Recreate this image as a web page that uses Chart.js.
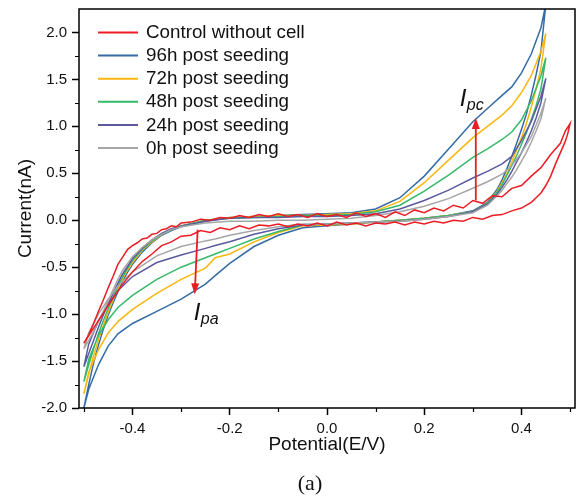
<!DOCTYPE html>
<html>
<head>
<meta charset="utf-8">
<script src="https://cdn.jsdelivr.net/npm/chart.js@4.4.1/dist/chart.umd.min.js"></script>
<style>
  html, body { margin: 0; padding: 0; background: #fff; }
  #box { width: 577px; height: 500px; }
</style>
</head>
<body>
<div id="box"><canvas id="cv" width="577" height="500"></canvas></div>
<script>
/* Voltamogramas cíclicos: cada curva = ramo de ida (X_FWD) + ramo de volta (X_BWD) */

const LABELS = ['Control without cell', '96h post seeding', '72h post seeding',
                '48h post seeding', '24h post seeding', '0h post seeding'];
const COLORS = ['#ec1c24', '#336ba5', '#f9b710', '#37b968', '#5b5a9e', '#a6a6a6'];

const X_TICKS = [-0.4, -0.2, 0.0, 0.2, 0.4];
const X_MINOR = [-0.5, -0.3, -0.1, 0.1, 0.3, 0.5];
const Y_TICKS = [-2.0, -1.5, -1.0, -0.5, 0.0, 0.5, 1.0, 1.5, 2.0];
const Y_MINOR = [-1.75, -1.25, -0.75, -0.25, 0.25, 0.75, 1.25, 1.75];

// grade de potencial das curvas com células (varredura até 0.45 V)
const X_FWD = [-0.50,-0.49,-0.48,-0.47,-0.46,-0.45,-0.44,-0.43,-0.42,-0.41,-0.40,-0.38,-0.36,-0.34,-0.32,-0.30,
  -0.25,-0.20,-0.15,-0.10,-0.05,0.00,0.05,0.10,0.15,0.20,0.25,0.30,0.33,0.36,0.38,0.40,0.42,0.44,0.45];
const X_BWD = [0.45,0.44,0.43,0.42,0.41,0.40,0.39,0.38,0.37,0.36,0.35,0.33,0.30,0.25,0.20,0.15,0.10,0.05,0.00,
  -0.05,-0.10,-0.15,-0.20,-0.23,-0.25,-0.30,-0.35,-0.40,-0.43,-0.45,-0.47,-0.49,-0.50];

const H96_FWD = [-2.00,-1.75,-1.52,-1.33,-1.16,-1.01,-0.88,-0.76,-0.65,-0.55,-0.47,-0.34,-0.24,-0.16,-0.11,-0.07,
  -0.01,0.03,0.04,0.05,0.06,0.07,0.08,0.12,0.24,0.47,0.76,1.05,1.19,1.33,1.42,1.57,1.77,2.05,2.30];
const H96_BWD = [2.30,1.80,1.55,1.33,1.13,0.97,0.82,0.68,0.55,0.43,0.33,0.19,0.10,0.05,0.02,0.00,-0.02,-0.04,-0.06,
  -0.08,-0.16,-0.28,-0.46,-0.59,-0.68,-0.84,-0.97,-1.10,-1.21,-1.34,-1.54,-1.80,-2.00];

const H72_FWD = [-1.85,-1.64,-1.44,-1.27,-1.12,-0.98,-0.85,-0.73,-0.62,-0.53,-0.45,-0.32,-0.23,-0.15,-0.10,-0.06,
  0.00,0.03,0.04,0.05,0.05,0.06,0.07,0.10,0.20,0.40,0.64,0.88,1.00,1.12,1.22,1.36,1.54,1.80,1.99];
const H72_BWD = [1.99,1.62,1.40,1.20,1.03,0.88,0.75,0.62,0.50,0.40,0.31,0.18,0.09,0.05,0.02,0.00,-0.02,-0.04,-0.05,
  -0.06,-0.13,-0.23,-0.36,-0.40,-0.51,-0.63,-0.78,-0.95,-1.08,-1.20,-1.38,-1.62,-1.85];

const H48_FWD = [-1.72,-1.54,-1.37,-1.21,-1.07,-0.94,-0.82,-0.70,-0.60,-0.51,-0.43,-0.31,-0.22,-0.15,-0.10,-0.06,
  0.00,0.02,0.03,0.04,0.05,0.05,0.06,0.09,0.16,0.31,0.48,0.67,0.76,0.86,0.94,1.07,1.27,1.54,1.73];
const H48_BWD = [1.73,1.40,1.22,1.07,0.93,0.81,0.69,0.58,0.48,0.38,0.30,0.18,0.09,0.05,0.02,0.00,-0.02,-0.03,-0.04,
  -0.05,-0.12,-0.20,-0.30,-0.36,-0.40,-0.50,-0.63,-0.80,-0.93,-1.06,-1.23,-1.48,-1.72];

const H24_FWD = [-1.56,-1.42,-1.28,-1.14,-1.01,-0.89,-0.78,-0.67,-0.57,-0.49,-0.41,-0.30,-0.21,-0.14,-0.09,-0.06,
  -0.01,0.02,0.03,0.03,0.04,0.04,0.05,0.07,0.12,0.21,0.32,0.45,0.52,0.60,0.68,0.85,1.05,1.32,1.51];
const H24_BWD = [1.51,1.25,1.09,0.95,0.83,0.72,0.62,0.52,0.43,0.35,0.28,0.17,0.09,0.04,0.01,-0.01,-0.02,-0.03,-0.04,
  -0.05,-0.09,-0.15,-0.23,-0.27,-0.30,-0.37,-0.45,-0.60,-0.75,-0.90,-1.07,-1.32,-1.56];

const H0_FWD = [-1.37,-1.28,-1.19,-1.08,-0.97,-0.86,-0.74,-0.63,-0.53,-0.46,-0.39,-0.29,-0.21,-0.15,-0.10,-0.07,
  -0.03,-0.01,-0.01,0.00,0.00,0.01,0.02,0.05,0.09,0.15,0.23,0.34,0.41,0.49,0.58,0.72,0.89,1.14,1.30];
const H0_BWD = [1.30,1.08,0.95,0.83,0.72,0.63,0.54,0.46,0.39,0.32,0.26,0.16,0.08,0.04,0.01,-0.01,-0.02,-0.03,-0.04,
  -0.04,-0.07,-0.11,-0.16,-0.20,-0.22,-0.28,-0.38,-0.55,-0.70,-0.84,-1.00,-1.20,-1.37];

// controle sem célula: varredura até 0.50 V, sinal mais ruidoso
const CTRL_X_FWD = [-0.50,-0.49,-0.48,-0.47,-0.46,-0.45,-0.44,-0.43,-0.42,-0.41,-0.40,-0.39,-0.38,-0.37,-0.36,-0.35,
  -0.34,-0.33,-0.32,-0.31,-0.30,-0.28,-0.26,-0.24,-0.22,-0.20,-0.18,-0.16,-0.14,-0.12,-0.10,-0.08,-0.06,-0.04,-0.02,
  0.00,0.02,0.04,0.06,0.08,0.10,0.12,0.14,0.16,0.18,0.20,0.22,0.24,0.26,0.28,0.30,0.32,0.34,0.36,0.38,0.40,0.42,
  0.44,0.46,0.48,0.49,0.50];
const CTRL_Y_FWD = [-1.31,-1.22,-1.10,-0.97,-0.85,-0.72,-0.60,-0.47,-0.39,-0.31,-0.27,-0.24,-0.20,-0.19,-0.15,-0.14,
  -0.10,-0.09,-0.06,-0.07,-0.03,-0.02,0.01,0.00,0.03,0.02,0.05,0.03,0.06,0.04,0.07,0.04,0.06,0.03,0.07,
  0.04,0.06,0.03,0.08,0.04,0.07,0.03,0.09,0.05,0.11,0.08,0.13,0.10,0.16,0.13,0.21,0.18,0.26,0.25,0.34,0.37,0.47,
  0.56,0.70,0.82,0.95,1.03];
const CTRL_X_BWD = [0.50,0.495,0.49,0.48,0.47,0.46,0.45,0.44,0.43,0.42,0.40,0.38,0.36,0.34,0.32,0.30,0.28,0.26,0.24,
  0.22,0.20,0.18,0.16,0.14,0.12,0.10,0.08,0.06,0.04,0.02,0.00,-0.02,-0.04,-0.06,-0.08,-0.10,-0.12,-0.14,-0.16,-0.18,
  -0.20,-0.22,-0.24,-0.26,-0.28,-0.30,-0.32,-0.34,-0.36,-0.38,-0.40,-0.42,-0.44,-0.46,-0.48,-0.50];
const CTRL_Y_BWD = [1.03,0.92,0.84,0.72,0.60,0.47,0.37,0.29,0.24,0.19,0.13,0.10,0.06,0.05,0.01,0.03,-0.01,0.00,-0.03,
  -0.01,-0.04,-0.02,-0.05,-0.02,-0.04,-0.03,-0.06,-0.03,-0.05,-0.02,-0.06,-0.03,-0.06,-0.04,-0.07,-0.04,-0.06,-0.05,-0.09,-0.06,
  -0.10,-0.08,-0.13,-0.11,-0.16,-0.17,-0.23,-0.27,-0.36,-0.44,-0.55,-0.68,-0.83,-0.99,-1.15,-1.31];

// setas I_pc / I_pa (valores em V, nA)
const ARROW_PC = { x0: 0.306, y0: 0.21, x1: 0.306, y1: 1.09 };
const ARROW_PA = { x0: -0.266, y0: -0.10, x1: -0.272, y1: -0.79 };

Chart.defaults.font.family = "'Liberation Sans', Arial, sans-serif";
Chart.defaults.color = '#111';

function laco(xs1, ys1, xs2, ys2) {
  return xs1.map((x, i) => ({ x, y: ys1[i] })).concat(xs2.map((x, i) => ({ x, y: ys2[i] })));
}

const CURVAS = [
  laco(CTRL_X_FWD, CTRL_Y_FWD, CTRL_X_BWD, CTRL_Y_BWD),
  laco(X_FWD, H96_FWD, X_BWD, H96_BWD),
  laco(X_FWD, H72_FWD, X_BWD, H72_BWD),
  laco(X_FWD, H48_FWD, X_BWD, H48_BWD),
  laco(X_FWD, H24_FWD, X_BWD, H24_BWD),
  laco(X_FWD, H0_FWD, X_BWD, H0_BWD)
];

function seta(ctx, xs, ys, s) {
  const ax = xs.getPixelForValue(s.x0), ay = ys.getPixelForValue(s.y0);
  const bx = xs.getPixelForValue(s.x1), by = ys.getPixelForValue(s.y1);
  const ang = Math.atan2(by - ay, bx - ax);
  const len = 11, half = 4;
  ctx.beginPath();
  ctx.moveTo(ax, ay);
  ctx.lineTo(bx - Math.cos(ang) * len * 0.8, by - Math.sin(ang) * len * 0.8);
  ctx.stroke();
  ctx.beginPath();
  ctx.moveTo(bx, by);
  ctx.lineTo(bx - Math.cos(ang) * len - Math.sin(ang) * half, by - Math.sin(ang) * len + Math.cos(ang) * half);
  ctx.lineTo(bx - Math.cos(ang) * len + Math.sin(ang) * half, by - Math.sin(ang) * len - Math.cos(ang) * half);
  ctx.closePath();
  ctx.fill();
  return { bx, by };
}

function rotuloI(ctx, x, y, sub) {
  ctx.fillStyle = '#111';
  ctx.textAlign = 'left';
  ctx.textBaseline = 'alphabetic';
  ctx.font = "italic 24px 'Liberation Sans'";
  ctx.fillText('I', x, y);
  ctx.font = "italic 16px 'Liberation Sans'";
  ctx.fillText(sub, x + 7, y + 4);
}

const decoracao = {
  id: 'decoracao',
  afterDatasetsDraw(c) {
    const { ctx, chartArea: a, scales: { x, y } } = c;
    ctx.save();

    // moldura
    ctx.strokeStyle = '#000';
    ctx.lineWidth = 1.5;
    ctx.strokeRect(a.left, a.top, a.right - a.left, a.bottom - a.top);

    // ticks menores
    ctx.lineWidth = 1.2;
    ctx.beginPath();
    X_MINOR.forEach(v => { const px = Math.round(x.getPixelForValue(v)) + 0.5; ctx.moveTo(px, a.bottom); ctx.lineTo(px, a.bottom + 4); });
    Y_MINOR.forEach(v => { const py = Math.round(y.getPixelForValue(v)) + 0.5; ctx.moveTo(a.left, py); ctx.lineTo(a.left - 4, py); });
    ctx.stroke();

    // legenda dentro da área do gráfico
    ctx.font = "18.8px 'Liberation Sans'";
    ctx.textBaseline = 'middle';
    ctx.textAlign = 'left';
    LABELS.forEach((t, i) => {
      const yy = a.top + 23.5 + i * 23.1;
      ctx.strokeStyle = COLORS[i];
      ctx.lineWidth = 2;
      ctx.beginPath();
      ctx.moveTo(a.left + 19, yy);
      ctx.lineTo(a.left + 59, yy);
      ctx.stroke();
      ctx.fillStyle = '#111';
      ctx.fillText(t, a.left + 67, yy + 0.5);
    });

    // setas e rótulos
    ctx.strokeStyle = COLORS[0];
    ctx.fillStyle = COLORS[0];
    ctx.lineWidth = 1.8;
    const pc = seta(ctx, x, y, ARROW_PC);
    const pa = seta(ctx, x, y, ARROW_PA);
    rotuloI(ctx, pc.bx - 16, pc.by - 12, 'pc');
    rotuloI(ctx, pa.bx - 1, pa.by + 26, 'pa');

    // legenda da figura
    ctx.fillStyle = '#111';
    ctx.font = "22px 'Liberation Serif'";
    ctx.textAlign = 'center';
    ctx.textBaseline = 'middle';
    ctx.fillText('(a)', 310, 484);
    ctx.restore();
  }
};

const ORDEM = [0, 5, 4, 3, 2, 1];

new Chart(document.getElementById('cv'), {
  type: 'scatter',
  data: {
    datasets: CURVAS.map((pts, i) => ({
      label: LABELS[i],
      data: pts,
      showLine: true,
      borderColor: COLORS[i],
      backgroundColor: COLORS[i],
      borderWidth: 1.5,
      pointRadius: 0,
      tension: 0,
      order: ORDEM[i]
    }))
  },
  options: {
    responsive: false,
    animation: false,
    devicePixelRatio: 1,
    layout: { padding: { top: 9, right: 2, left: 0, bottom: 0 } },
    plugins: { legend: { display: false }, tooltip: { enabled: false } },
    scales: {
      x: {
        type: 'linear', min: -0.51, max: 0.51,
        afterBuildTicks: s => { s.ticks = X_TICKS.map(v => ({ value: v })); },
        afterFit: s => { s.height = 92; s.paddingLeft = 0; s.paddingRight = 0; },
        grid: { drawOnChartArea: false, tickLength: 7, tickWidth: 1.5, tickColor: '#000' },
        border: { display: false },
        ticks: { padding: 5, font: { size: 15 }, maxRotation: 0, autoSkip: false, callback: v => v.toFixed(1) },
        title: { display: true, text: 'Potential(E/V)', font: { size: 19 }, padding: { top: 0, bottom: 44 } }
      },
      y: {
        type: 'linear', min: -2.0, max: 2.25,
        afterBuildTicks: s => { s.ticks = Y_TICKS.map(v => ({ value: v })); },
        afterFit: s => { s.width = 79; s.paddingTop = 0; s.paddingBottom = 0; },
        grid: { drawOnChartArea: false, tickLength: 7, tickWidth: 1.5, tickColor: '#000' },
        border: { display: false },
        ticks: { padding: 5, font: { size: 15 }, autoSkip: false, callback: v => v.toFixed(1) },
        title: { display: true, text: 'Current(nA)', font: { size: 19 }, padding: { top: 14, bottom: 0 } }
      }
    }
  },
  plugins: [decoracao]
});
</script>
</body>
</html>
